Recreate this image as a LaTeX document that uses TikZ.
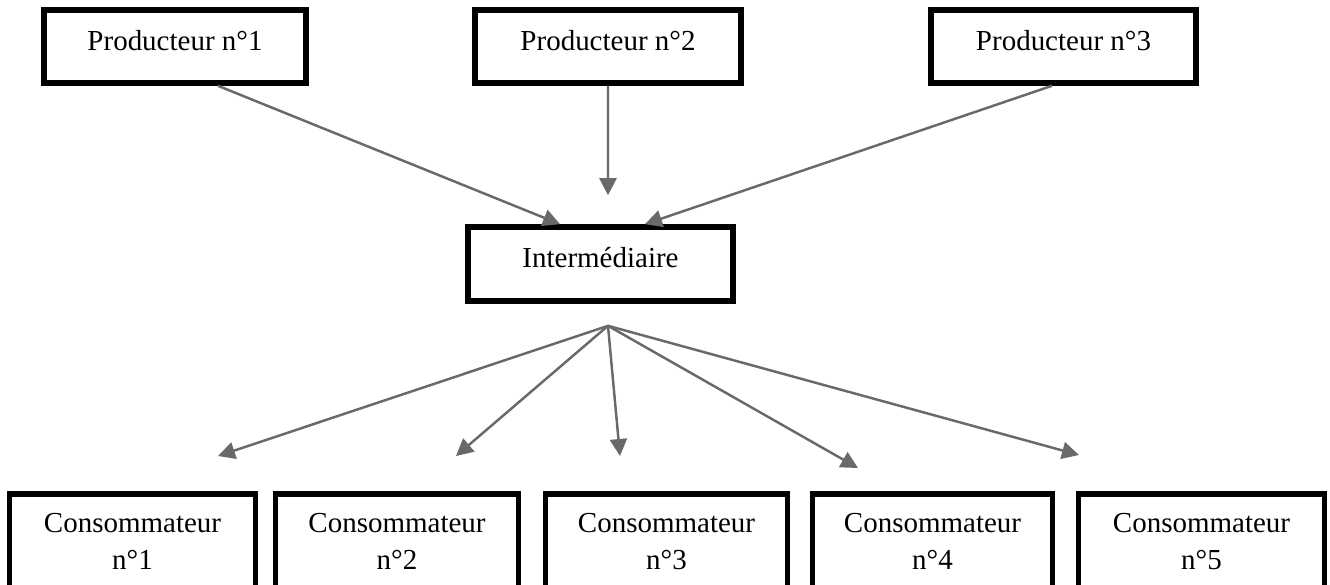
\documentclass[tikz,border=0pt]{standalone}
\usepackage{fontspec}
\setmainfont{Liberation Serif}
\usetikzlibrary{arrows.meta,positioning,calc}
\definecolor{ar}{RGB}{105,105,105}

\begin{document}
\begin{tikzpicture}[x=0.02cm,y=-0.02cm,
    box/.style={rectangle,draw,line width=3.2pt,minimum width=5.3cm,minimum height=1.46cm,text height=0.42cm,text depth=0.28cm,inner sep=0pt,font=\fontsize{16.5}{21.5}\selectfont},
    cons/.style={rectangle,draw,line width=3.2pt,anchor=north,align=center,inner xsep=0pt,inner ysep=0.38cm,font=\fontsize{16.5}{21.5}\selectfont},
    arr/.style={-{Triangle[length=0.34cm,width=0.34cm]},line width=1.4pt,draw=ar},
]
\useasboundingbox (0,0) rectangle (1330,585);
\clip (0,0) rectangle (1330,585);

% Producers
\node[box,minimum width=5.24cm] (p1) at (175,46.5) {Producteur n°1};
\node[box,minimum width=5.32cm] (p2) at (608,46.5) {Producteur n°2};
\node[box] (p3) at (1063.5,46.5) {Producteur n°3};

% Intermediary
\node[box,minimum height=1.48cm] (inter) at (600.5,264) {Intermédiaire};

% Consumers
\node[cons,minimum width=4.92cm] (c1) at (132.5,491) {Consommateur\\n°1};
\node[cons,minimum width=4.86cm] (c2) at (397,491) {Consommateur\\n°2};
\node[cons,minimum width=4.84cm] (c3) at (666.5,491) {Consommateur\\n°3};
\node[cons,minimum width=4.8cm] (c4) at (932.5,491) {Consommateur\\n°4};
\node[cons,minimum width=4.92cm] (c5) at (1201.5,491) {Consommateur\\n°5};

% Free ends
\coordinate (mid) at ([xshift=0.15cm,yshift=0.58cm]inter.north);
\coordinate (hub) at ([xshift=0.15cm,yshift=-0.44cm]inter.south);
\coordinate (k1) at ([xshift=1.71cm,yshift=0.7cm]c1.north);
\coordinate (k2) at ([xshift=1.18cm,yshift=0.7cm]c2.north);
\coordinate (k3) at ([xshift=-0.93cm,yshift=0.7cm]c3.north);
\coordinate (k4) at ([xshift=-1.49cm,yshift=0.46cm]c4.north);
\coordinate (k5) at ([xshift=-2.45cm,yshift=0.72cm]c5.north);

% Arrows
\draw[arr] ([xshift=0.86cm]p1.south) -- ([xshift=-0.81cm]inter.north);
\draw[arr] (p2.south) -- (mid);
\draw[arr] ([xshift=-0.23cm]p3.south) -- ([xshift=0.89cm]inter.north);
\draw[arr] (hub) -- (k1);
\draw[arr] (hub) -- (k2);
\draw[arr] (hub) -- (k3);
\draw[arr] (hub) -- (k4);
\draw[arr] (hub) -- (k5);
\end{tikzpicture}
\end{document}
